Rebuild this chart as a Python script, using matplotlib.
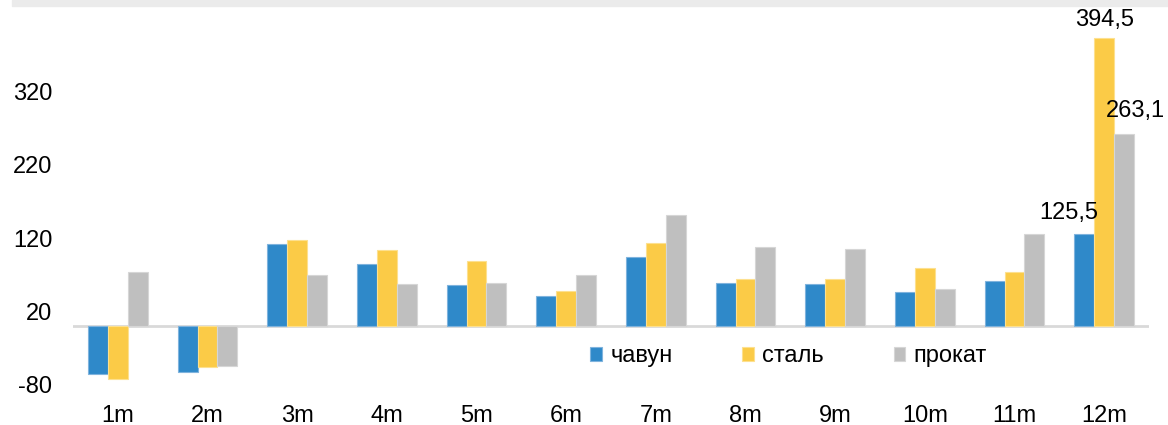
import matplotlib.pyplot as plt
import numpy as np
from matplotlib.patches import Rectangle

plt.rcParams['font.family'] = ['Liberation Sans', 'DejaVu Sans']

months = ['1m', '2m', '3m', '4m', '5m', '6m', '7m', '8m', '9m', '10m', '11m', '12m']
chavun = [-66, -63, 112.3, 84.5, 55.3, 40.2, 93.6, 58.4, 56.6, 45.7, 61.6, 125.5]
stal = [-73, -56, 117.8, 103.7, 88.6, 48, 113.2, 64.4, 63.9, 79.5, 73.5, 394.5]
prokat = [73, -55, 69.4, 57, 58.4, 69.4, 151, 108.2, 105, 50.7, 125, 263.1]
series_names = ['чавун', 'сталь', 'прокат']
yticks = [-80, 20, 120, 220, 320]

colors = ['#2f89c9', '#fbcb47', '#bfbfbf']
edges = ['#7fb3dd', '#fde08f', '#d6d6d6']
fs = 17

fig = plt.figure(figsize=(11.68, 4.25), dpi=100)
ax = fig.add_axes([73 / 1168, 30 / 425, (1149 - 73) / 1168, 387 / 425])

# grey title strip cut at the top
fig.patches.append(Rectangle((12 / 1168, 1 - 6 / 425), 1, 6 / 425,
                             transform=fig.transFigure, color='#ebebeb', zorder=0))

x = np.arange(len(months))
w = 0.222
for i, (vals, name) in enumerate(zip([chavun, stal, prokat], series_names)):
    ax.bar(x + (i - 1) * w, vals, width=w, color=colors[i], edgecolor=edges[i],
           linewidth=0.8, label=name, zorder=2)

ax.axhline(0, color='#d9d9d9', linewidth=2, zorder=1)

# labels for the last month
last = len(months) - 1
ax.text(last - w - 0.17, chavun[-1] + 14, '125,5', ha='center', va='bottom', fontsize=fs)
ax.text(last, stal[-1] + 9, '394,5', ha='center', va='bottom', fontsize=fs)
ax.text(last + w + 0.13, prokat[-1] + 16, '263,1', ha='center', va='bottom', fontsize=fs)

ax.set_xlim(-0.5, 11.5)
ax.set_ylim(-95, 435)
ax.set_yticks(yticks)
ax.set_yticklabels([str(v) for v in yticks], fontsize=fs)
ax.set_xticks(x)
ax.set_xticklabels(months, fontsize=fs)
ax.tick_params(axis='y', length=0, pad=15)
ax.tick_params(axis='x', length=0, pad=7)
for s in ax.spines.values():
    s.set_visible(False)

ax.legend(loc='center', bbox_to_anchor=(0.665, 0.10), ncol=3, frameon=False,
          fontsize=fs, handlelength=0.5, handleheight=0.5, handletextpad=0.35,
          columnspacing=2.95)

fig.savefig('out.png', dpi=100)
